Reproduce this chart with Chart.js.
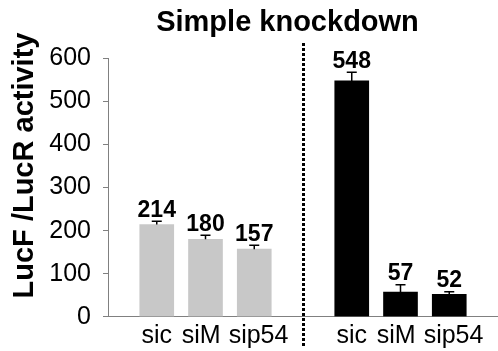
<!DOCTYPE html>
<html>
<head>
<meta charset="utf-8">
<script src="https://cdn.jsdelivr.net/npm/chart.js@4/dist/chart.umd.min.js"></script>
<style>
  html, body { margin: 0; padding: 0; background: #fff; }
  canvas { display: block; }
</style>
</head>
<body>
<canvas id="chart" width="498" height="351"></canvas>
<script>
// Knockdown constructs, shown once per panel
const categories = ['sic', 'siM', 'sip54'];

// Left panel (grey bars): mean and upper error
const panel1Values = [214, 180, 157];
const panel1Errors = [8, 9, 9];

// Right panel (black bars): mean and upper error
const panel2Values = [548, 57, 52];
const panel2Errors = [20, 17, 6];

const yTicks = [0, 100, 200, 300, 400, 500, 600];
const chartTitle = 'Simple knockdown';
const yTitle = 'LucF /LucR activity';

// Right panel starts after one empty slot
const gapSlot = categories.length;
const panel2Offset = categories.length + 1;

const FONT = '"Liberation Sans", Arial, Helvetica, sans-serif';
Chart.defaults.font.family = FONT;
Chart.defaults.color = '#000';

function barDataset(values, errors, color, offset) {
  return {
    data: values.map((v, i) => ({ x: i + offset, y: v })),
    errors: errors,
    backgroundColor: color,
    borderWidth: 0,
    grouped: false,
    categoryPercentage: 1,
    barPercentage: 1,
    maxBarThickness: 34
  };
}

// Category labels under each panel, nudged apart so neighbours never touch
function drawCategoryLabels(ctx, centers, baseline) {
  ctx.save();
  ctx.font = '25px ' + FONT;
  ctx.fillStyle = '#000';
  ctx.textAlign = 'center';
  ctx.textBaseline = 'alphabetic';
  const items = categories.map((t, i) => ({ t, x: centers[i], w: ctx.measureText(t).width }));
  const minGap = 8;
  for (let pass = 0; pass < 3; pass++) {
    for (let j = 0; j < items.length - 1; j++) {
      const a = items[j], b = items[j + 1];
      const overlap = (a.x + a.w / 2 + minGap) - (b.x - b.w / 2);
      if (overlap > 0) { a.x -= overlap / 2; b.x += overlap / 2; }
    }
  }
  items.forEach(it => ctx.fillText(it.t, it.x, baseline));
  ctx.restore();
}

// Error bars, value labels, divider, category labels and titles
const annotations = {
  id: 'annotations',
  afterDatasetsDraw(chart) {
    const ctx = chart.ctx;
    const y = chart.scales.y;
    const x = chart.scales.x;

    // dotted divider between the two panels
    ctx.save();
    ctx.strokeStyle = '#000';
    ctx.lineWidth = 3;
    ctx.setLineDash([3, 2]);
    const dx = Math.round(x.getPixelForValue(gapSlot)) + 0.5;
    ctx.beginPath();
    ctx.moveTo(dx, 43);
    ctx.lineTo(dx, 346);
    ctx.stroke();
    ctx.restore();

    chart.data.datasets.forEach((ds, di) => {
      const meta = chart.getDatasetMeta(di);
      meta.data.forEach((bar, i) => {
        const v = ds.data[i].y;
        const top = y.getPixelForValue(v + ds.errors[i]);
        const base = y.getPixelForValue(v);
        const cx = bar.x;
        ctx.save();
        ctx.strokeStyle = '#000';
        ctx.lineWidth = 1.5;
        ctx.beginPath();
        ctx.moveTo(cx, base);
        ctx.lineTo(cx, top);
        ctx.moveTo(cx - 5, top);
        ctx.lineTo(cx + 5, top);
        ctx.stroke();
        ctx.fillStyle = '#000';
        ctx.font = 'bold 23px ' + FONT;
        ctx.textAlign = 'center';
        ctx.textBaseline = 'alphabetic';
        ctx.fillText(String(v), cx, top - 4.5);
        ctx.restore();
      });
      drawCategoryLabels(ctx, meta.data.map(b => b.x), y.bottom + 26);
    });

    // chart title
    ctx.save();
    ctx.fillStyle = '#000';
    ctx.font = 'bold 29px ' + FONT;
    ctx.textAlign = 'center';
    ctx.textBaseline = 'alphabetic';
    ctx.fillText(chartTitle, 287.5, 31);
    ctx.restore();

    // y axis title
    ctx.save();
    ctx.fillStyle = '#000';
    ctx.font = 'bold 29px ' + FONT;
    ctx.textAlign = 'center';
    ctx.textBaseline = 'alphabetic';
    ctx.translate(33, 165.5);
    ctx.rotate(-Math.PI / 2);
    ctx.fillText(yTitle, 0, 0);
    ctx.restore();
  }
};

new Chart(document.getElementById('chart'), {
  type: 'bar',
  data: {
    datasets: [
      barDataset(panel1Values, panel1Errors, '#c8c8c8', 0),
      barDataset(panel2Values, panel2Errors, '#000000', panel2Offset)
    ]
  },
  options: {
    responsive: false,
    animation: false,
    devicePixelRatio: 1,
    layout: { padding: { top: 58.5, left: 0, right: 0, bottom: 0 } },
    plugins: {
      legend: { display: false },
      title: { display: false },
      tooltip: { enabled: false }
    },
    scales: {
      x: {
        type: 'linear',
        offset: false,
        min: -1,
        max: 7,
        grid: { display: false },
        border: { display: true, color: '#808080', width: 1 },
        ticks: { display: false },
        afterFit: s => { s.height = 34.3; }
      },
      y: {
        min: 0,
        max: 600,
        afterBuildTicks: s => { s.ticks = yTicks.map(v => ({ value: v })); },
        afterFit: s => { s.width = 108; },
        grid: { drawOnChartArea: false, drawTicks: true, tickLength: 5, color: '#808080' },
        border: { display: true, color: '#808080', width: 1 },
        ticks: { padding: 12, color: '#000', font: { size: 25 } }
      }
    }
  },
  plugins: [annotations]
});
</script>
</body>
</html>
